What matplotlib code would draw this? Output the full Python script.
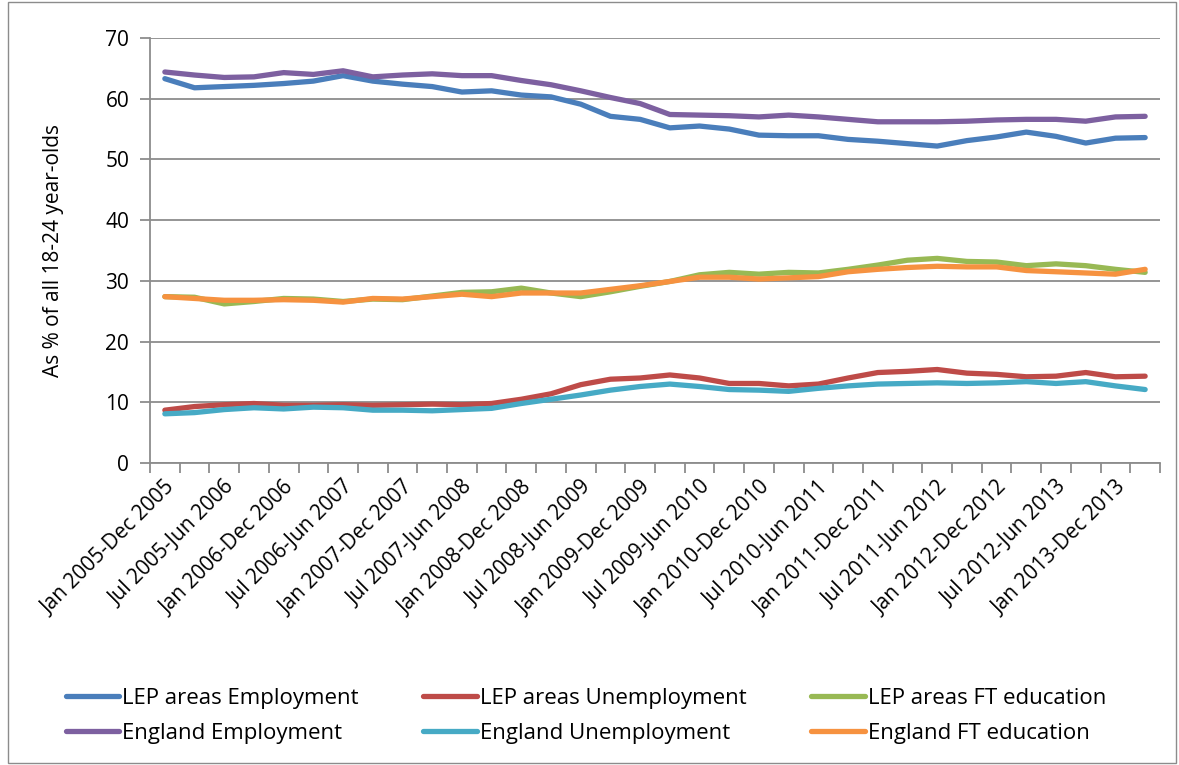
import numpy as np
import matplotlib.pyplot as plt
from matplotlib.patches import Rectangle

plt.rcParams['font.family'] = ['Open Sans', 'DejaVu Sans']

# rolling 12-month periods, quarterly
periods = []
for y in range(2005, 2014):
    for m1, m2, dy in [("Jan", "Dec", 0), ("Apr", "Mar", 1), ("Jul", "Jun", 1), ("Oct", "Sep", 1)]:
        periods.append(f"{m1} {y}-{m2} {y + dy}")
periods = periods[:34]

lep_emp = [63.3, 61.8, 62.0, 62.2, 62.5, 62.9, 63.8, 62.9, 62.4, 62.0, 61.1, 61.3,
           60.6, 60.3, 59.1, 57.1, 56.6, 55.2, 55.5, 55.0, 54.0, 53.9, 53.9, 53.3,
           53.0, 52.6, 52.2, 53.1, 53.7, 54.5, 53.8, 52.7, 53.5, 53.6]
lep_unemp = [8.7, 9.3, 9.6, 9.8, 9.5, 9.5, 9.6, 9.5, 9.6, 9.7, 9.6, 9.8,
             10.5, 11.4, 12.9, 13.8, 14.0, 14.5, 14.0, 13.1, 13.1, 12.7, 13.0, 14.0,
             14.9, 15.1, 15.4, 14.8, 14.6, 14.2, 14.3, 14.9, 14.2, 14.3]
lep_ft = [27.4, 27.3, 26.2, 26.6, 27.1, 27.0, 26.6, 27.0, 26.9, 27.5, 28.1, 28.2,
          28.8, 28.0, 27.4, 28.2, 29.1, 29.9, 31.0, 31.4, 31.1, 31.4, 31.3, 31.9,
          32.6, 33.4, 33.7, 33.2, 33.1, 32.5, 32.8, 32.5, 31.9, 31.4]
eng_emp = [64.4, 63.9, 63.5, 63.6, 64.3, 64.0, 64.6, 63.6, 63.9, 64.1, 63.8, 63.8,
           63.0, 62.3, 61.3, 60.2, 59.2, 57.4, 57.3, 57.2, 57.0, 57.3, 57.0, 56.6,
           56.2, 56.2, 56.2, 56.3, 56.5, 56.6, 56.6, 56.3, 57.0, 57.1]
eng_unemp = [8.1, 8.3, 8.8, 9.1, 8.9, 9.2, 9.1, 8.7, 8.7, 8.6, 8.8, 9.0,
             9.8, 10.5, 11.2, 12.0, 12.6, 13.0, 12.6, 12.1, 12.0, 11.8, 12.3, 12.7,
             13.0, 13.1, 13.2, 13.1, 13.2, 13.4, 13.1, 13.4, 12.7, 12.1]
eng_ft = [27.4, 27.1, 26.8, 26.8, 26.9, 26.8, 26.5, 27.1, 27.0, 27.4, 27.8, 27.4,
          28.0, 28.0, 28.0, 28.6, 29.2, 29.9, 30.6, 30.6, 30.3, 30.5, 30.7, 31.5,
          31.9, 32.2, 32.4, 32.3, 32.3, 31.7, 31.5, 31.3, 31.1, 31.9]

series = [
    ("LEP areas Employment", lep_emp, "#4A7EBB"),
    ("LEP areas Unemployment", lep_unemp, "#BE4B48"),
    ("LEP areas FT education", lep_ft, "#98B954"),
    ("England Employment", eng_emp, "#7D60A0"),
    ("England Unemployment", eng_unemp, "#46AAC5"),
    ("England FT education", eng_ft, "#F69240"),
]

fig = plt.figure(figsize=(11.79, 7.65), dpi=100)
ax = fig.add_axes([150 / 1179, 1 - 463 / 765, (1160 - 150) / 1179, (463 - 38) / 765])

x = np.arange(len(periods))
lines = {}
for name, vals, col in series:
    ln, = ax.plot(x, vals, color=col, lw=3.8, solid_capstyle='round', solid_joinstyle='round')
    lines[name] = ln

ax.set_xlim(-0.5, len(periods) - 0.5)
ax.set_ylim(0, 70)
ax.set_yticks(range(0, 71, 10))
ax.yaxis.grid(True, color="#8C8C8C", lw=1.3)
ax.set_axisbelow(True)

ax.set_xticks(x[::2])
ax.set_xticklabels(periods[::2], rotation=45, ha='right', rotation_mode='anchor')
ax.set_xticks(np.arange(-0.5, len(periods)), minor=True)
ax.tick_params(axis='x', which='major', length=0, pad=10, labelsize=15, colors='black')
ax.tick_params(axis='x', which='minor', length=7, width=1.3, color="#8C8C8C")
ax.tick_params(axis='y', length=7, width=1.3, color="#8C8C8C", labelsize=15, pad=8)

for s in ['top', 'right']:
    ax.spines[s].set_visible(False)
for s in ['left', 'bottom']:
    ax.spines[s].set_color("#8C8C8C")
    ax.spines[s].set_linewidth(1.3)

ax.set_ylabel("As % of all 18-24 year-olds", fontsize=15, labelpad=30)

order = ["LEP areas Employment", "England Employment",
         "LEP areas Unemployment", "England Unemployment",
         "LEP areas FT education", "England FT education"]
fig.legend([lines[n] for n in order], order, ncol=3, loc='center',
           bbox_to_anchor=(0.497, 1 - 716 / 765), frameon=False, fontsize=16,
           handlelength=2.4, handletextpad=0.15, columnspacing=2.9, labelspacing=0.62)

fig.patches.append(Rectangle((8 / 1179, 0.002), 1 - 11 / 1179, 0.995, transform=fig.transFigure,
                             fill=False, edgecolor="#8C8C8C", lw=1.0))

fig.savefig("out.png", dpi=100)
